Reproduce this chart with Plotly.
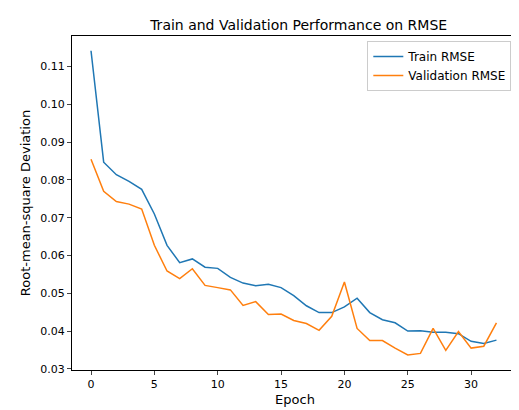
import plotly.graph_objects as go

epochs = list(range(33))
train_rmse = [0.1142,0.0847,0.0814,0.0796,0.0775,0.0710,0.0627,0.0581,0.0591,0.0569,0.0566,0.0542,0.0527,0.0520,0.0524,0.0515,0.0494,0.0467,0.0449,0.0449,0.0464,0.0487,0.0449,0.0430,0.0422,0.0400,0.0401,0.0397,0.0397,0.0393,0.0373,0.0367,0.0376]
val_rmse = [0.0855,0.0770,0.0743,0.0736,0.0723,0.0627,0.0559,0.0539,0.0565,0.0521,0.0515,0.0509,0.0468,0.0478,0.0444,0.0445,0.0428,0.0420,0.0402,0.0439,0.0530,0.0407,0.0375,0.0375,0.0355,0.0337,0.0341,0.0407,0.0349,0.0399,0.0355,0.0360,0.0422]

fig = go.Figure()
fig.add_trace(go.Scatter(x=epochs, y=train_rmse, mode="lines", name="Train RMSE", line=dict(color="#1f77b4", width=1.5)))
fig.add_trace(go.Scatter(x=epochs, y=val_rmse, mode="lines", name="Validation RMSE", line=dict(color="#ff7f0e", width=1.5)))

axis = dict(showline=True, linecolor="black", linewidth=1, mirror=True, ticks="outside", ticklen=4, showgrid=False, zeroline=False, automargin=False, tickfont=dict(size=11, color="black"))
fig.update_layout(
    width=519, height=410, margin=dict(l=64, r=9, t=28, b=48),
    paper_bgcolor="white", plot_bgcolor="white",
    font=dict(family="DejaVu Sans", size=11, color="black"),
    title=dict(text="Train and Validation Performance on RMSE", x=0.56, xanchor="center", y=0.9585, yanchor="middle", automargin=False, font=dict(size=14)),
    xaxis=dict(axis, range=[-1.5, 33.7], tickvals=[0,5,10,15,20,25,30], title=dict(text="Epoch", standoff=4)),
    yaxis=dict(axis, range=[0.0297, 0.1181], tickvals=[0.03,0.04,0.05,0.06,0.07,0.08,0.09,0.10,0.11], tickformat=".2f", title=dict(text="Root-mean-square Deviation", standoff=6)),
    legend=dict(x=0.985, y=0.985, xanchor="right", yanchor="top", bordercolor="#cccccc", borderwidth=1, bgcolor="rgba(255,255,255,0.8)", font=dict(size=12)),
)
fig.write_html("out.html")
